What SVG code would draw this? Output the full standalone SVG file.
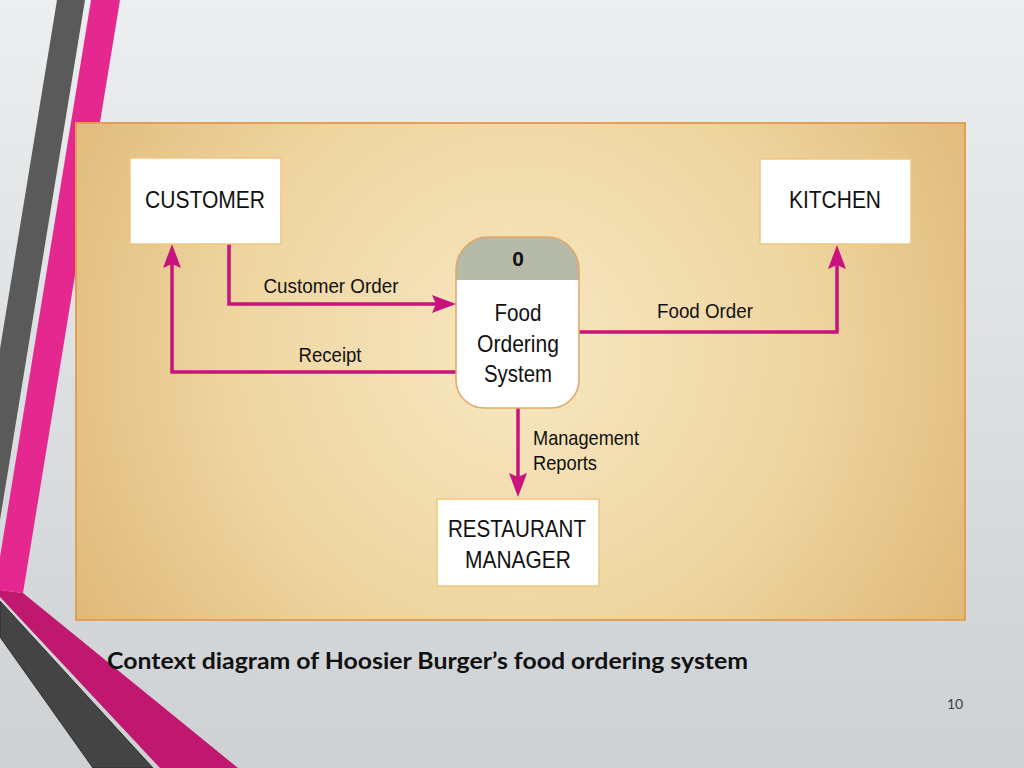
<svg xmlns="http://www.w3.org/2000/svg" width="1024" height="768" viewBox="0 0 1024 768">
<defs>
<linearGradient id="bg" x1="0" y1="0" x2="0" y2="1">
<stop offset="0" stop-color="#eceeef"/>
<stop offset="1" stop-color="#cdd1d4"/>
</linearGradient>
<radialGradient id="panel" gradientUnits="userSpaceOnUse" cx="520" cy="350" r="560">
<stop offset="0" stop-color="#f7e7c2"/>
<stop offset="0.5" stop-color="#efd6a1"/>
<stop offset="1" stop-color="#dcb472"/>
</radialGradient>
<marker id="ah" markerUnits="userSpaceOnUse" markerWidth="24" markerHeight="18" viewBox="0 0 24 18" refX="14" refY="9" orient="auto">
<path d="M0,0 L24,9 L0,18 L4,9 Z" fill="#c8137c"/>
</marker>
<style>
.ent{fill:#ffffff;stroke:#f1c67c;stroke-width:1.5}
.et{font-family:"Liberation Sans",Arial,sans-serif;font-size:24px;fill:#111;text-anchor:middle}
.lb{font-family:"Liberation Sans",Arial,sans-serif;font-size:21px;fill:#111}
.fl{fill:none;stroke:#c8137c;stroke-width:3.5}
</style>
</defs>
<rect width="1024" height="768" fill="url(#bg)"/>
<g id="decor">
<polygon points="57,0 85,0 0,520 0,349" fill="#5a5a5a"/>
<polygon points="91,0 120,0 23,593 0,590 0,557" fill="#e4288f"/>
<polygon points="0,590 23,593 238,768 160,768 0,597" fill="#c1186f"/>
<polygon points="0,601 153,768 93,768 0,637" fill="#444444" stroke="#2e2e2e" stroke-width="1"/>
</g>
<rect x="76" y="123" width="889" height="497" fill="url(#panel)" stroke="#e59f52" stroke-width="2"/>
<g id="connectors">
<path class="fl" d="M229,244 V304 H446" marker-end="url(#ah)"/>
<text class="lb" x="331" y="293" text-anchor="middle" textLength="135" lengthAdjust="spacingAndGlyphs">Customer Order</text>
<path class="fl" d="M456,372 H172 V254" marker-end="url(#ah)"/>
<text class="lb" x="330" y="362" text-anchor="middle" textLength="63" lengthAdjust="spacingAndGlyphs">Receipt</text>
<path class="fl" d="M579,332 H837 V255" marker-end="url(#ah)"/>
<text class="lb" x="705" y="318" text-anchor="middle" textLength="96" lengthAdjust="spacingAndGlyphs">Food Order</text>
<path class="fl" d="M518,408 V487" marker-end="url(#ah)"/>
<text class="lb" x="533" y="445" textLength="106" lengthAdjust="spacingAndGlyphs">Management</text>
<text class="lb" x="533" y="470" textLength="64" lengthAdjust="spacingAndGlyphs">Reports</text>
</g>
<g id="customer">
<rect class="ent" x="130" y="158" width="151" height="86"/>
<text class="et" x="205" y="208" textLength="120" lengthAdjust="spacingAndGlyphs">CUSTOMER</text>
</g>
<g id="kitchen">
<rect class="ent" x="760" y="159" width="151" height="85"/>
<text class="et" x="835" y="208" textLength="92" lengthAdjust="spacingAndGlyphs">KITCHEN</text>
</g>
<g id="manager">
<rect class="ent" x="437" y="499" width="162" height="87"/>
<text class="et" x="517" y="537" textLength="138" lengthAdjust="spacingAndGlyphs">RESTAURANT</text>
<text class="et" x="518" y="568" textLength="106" lengthAdjust="spacingAndGlyphs">MANAGER</text>
</g>
<g id="process">
<path d="M456,270 A32,33 0 0 1 488,237 H547 A32,33 0 0 1 579,270 V380 A28,28 0 0 1 551,408 H484 A28,28 0 0 1 456,380 Z" fill="#ffffff"/>
<path d="M456,280 V270 A32,33 0 0 1 488,237 H547 A32,33 0 0 1 579,270 V280 Z" fill="#b6baa9"/>
<path d="M456,270 A32,33 0 0 1 488,237 H547 A32,33 0 0 1 579,270 V380 A28,28 0 0 1 551,408 H484 A28,28 0 0 1 456,380 Z" fill="none" stroke="#e3a762" stroke-width="1.5"/>
<text x="518" y="266" font-family="Liberation Sans,Arial,sans-serif" font-size="21" font-weight="bold" fill="#111" text-anchor="middle">0</text>
<text class="et" x="518" y="321" textLength="47" lengthAdjust="spacingAndGlyphs">Food</text>
<text class="et" x="518" y="352" textLength="82" lengthAdjust="spacingAndGlyphs">Ordering</text>
<text class="et" x="518" y="382" textLength="68" lengthAdjust="spacingAndGlyphs">System</text>
</g>
<text x="107" y="669" font-family="Lato,'Open Sans',sans-serif" font-size="23" font-weight="bold" fill="#111" textLength="641" lengthAdjust="spacingAndGlyphs">Context diagram of Hoosier Burger’s food ordering system</text>
<text x="955" y="709" font-family="Lato,'Liberation Sans',sans-serif" font-size="14" fill="#404040" text-anchor="middle">10</text>
</svg>
